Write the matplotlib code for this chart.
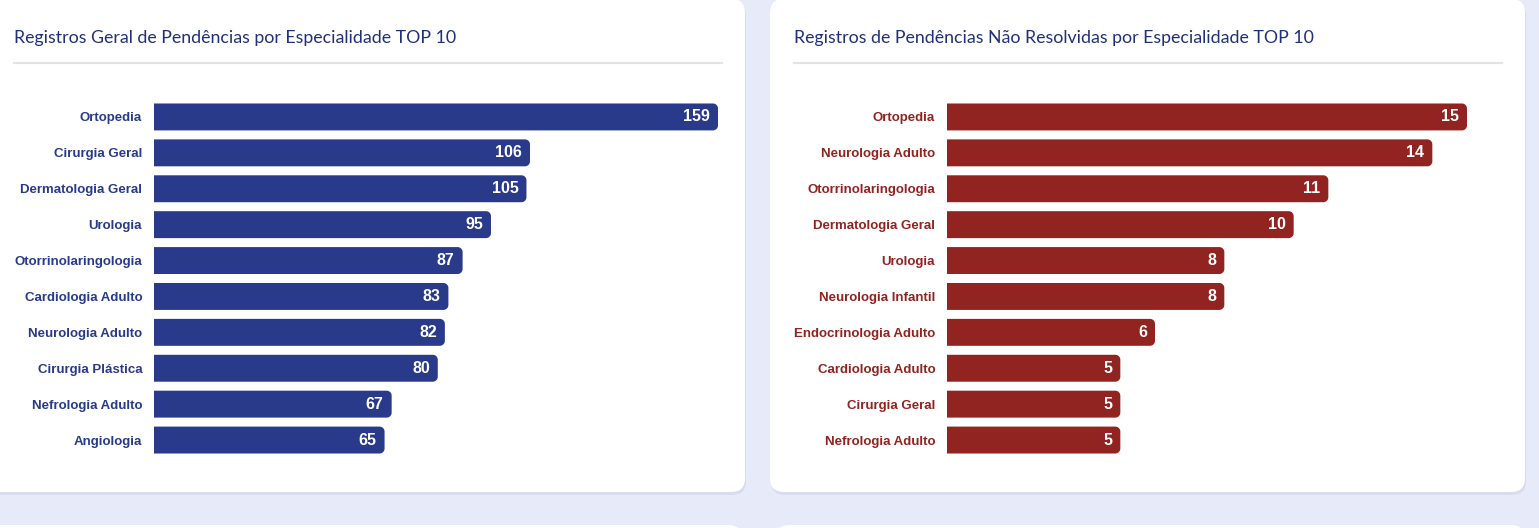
import numpy as np
import matplotlib.pyplot as plt
from matplotlib.patches import FancyBboxPatch, Polygon

# dados
esp_geral = ['Ortopedia', 'Cirurgia Geral', 'Dermatologia Geral', 'Urologia',
             'Otorrinolaringologia', 'Cardiologia Adulto', 'Neurologia Adulto',
             'Cirurgia Plástica', 'Nefrologia Adulto', 'Angiologia']
val_geral = [159, 106, 105, 95, 87, 83, 82, 80, 67, 65]

esp_nao_resolv = ['Ortopedia', 'Neurologia Adulto', 'Otorrinolaringologia',
                  'Dermatologia Geral', 'Urologia', 'Neurologia Infantil',
                  'Endocrinologia Adulto', 'Cardiologia Adulto', 'Cirurgia Geral',
                  'Nefrologia Adulto']
val_nao_resolv = [15, 14, 11, 10, 8, 8, 6, 5, 5, 5]

titulos = ['Registros Geral de Pendências por Especialidade TOP 10',
           'Registros de Pendências Não Resolvidas por Especialidade TOP 10']

W, H = 1539, 528
AZUL = '#293a8a'
VERMELHO = '#912320'
FUNDO = '#e7eaf8'

fig = plt.figure(figsize=(W / 100, H / 100), dpi=100)
fig.patch.set_facecolor(FUNDO)


def px(x0, y0, w, h):
    # caixa em pixels (origem no topo) -> coordenadas da figura
    return [x0 / W, 1 - (y0 + h) / H, w / W, h / H]


def cartao(x0, y0, w, h):
    x, y, ww, hh = px(x0, y0, w, h)
    sombra = FancyBboxPatch((x + 1 / W, y - 3 / H), ww, hh, transform=fig.transFigure,
                            boxstyle='round,pad=0,rounding_size=0.009',
                            mutation_aspect=W / H, facecolor='#d9dcef',
                            edgecolor='none', zorder=0)
    fig.patches.append(sombra)
    p = FancyBboxPatch((x, y), ww, hh, transform=fig.transFigure,
                       boxstyle='round,pad=0,rounding_size=0.009',
                       mutation_aspect=W / H, facecolor='white',
                       edgecolor='none', zorder=0.5)
    fig.patches.append(p)


cartao(-30, -1, 775, 493)
cartao(770, -1, 755, 493)
cartao(-30, 525, 772, 60)
cartao(775, 525, 750, 60)


def barra_arredondada(x0, y0, w, h, rx, ry):
    # retangulo com os cantos da direita arredondados
    t = np.linspace(0, np.pi / 2, 10)
    pts = [(x0, y0)]
    # canto superior direito (y0 e o topo, eixo invertido)
    cx, cy = x0 + w - rx, y0 + ry
    pts += list(zip(cx + rx * np.sin(t), cy - ry * np.cos(t)))
    cx, cy = x0 + w - rx, y0 + h - ry
    pts += list(zip(cx + rx * np.cos(t), cy + ry * np.sin(t)))
    pts.append((x0, y0 + h))
    return pts


def painel(x_card, titulo, cats, vals, cor, bar_left, bar_w, linha_w):
    # titulo e linha separadora
    fig.text((x_card + 14) / W, 1 - 38 / H, titulo, fontsize=12.8, color='#21307a',
             family='Lato', va='center', ha='left', zorder=3)
    fig.add_artist(plt.Line2D([(x_card + 14) / W, (x_card + 14 + linha_w) / W],
                              [1 - 63 / H, 1 - 63 / H], color='#e1e2e8', lw=1.5,
                              zorder=3))

    ax = fig.add_axes(px(bar_left, 99, bar_w, 359))
    ax.set_zorder(2)
    ax.set_facecolor('none')
    y = range(len(cats))
    bars = ax.barh(y, vals, height=0.75, color=cor, edgecolor='none')
    ax.set_xlim(0, max(vals))
    ax.set_ylim(len(cats) - 0.5, -0.5)

    rx = max(vals) * 5 / bar_w          # ~5 px
    ry = len(cats) * 5 / 359
    for b in bars:
        b.set_visible(False)
        x0, y0 = b.get_x(), b.get_y()
        w, h = b.get_width(), b.get_height()
        ax.add_patch(Polygon(barra_arredondada(x0, y0, w, h, rx, ry), closed=True,
                             facecolor=cor, edgecolor='none', zorder=2))
        ax.text(w - max(vals) * 8 / bar_w, y0 + h / 2, str(w), color='white',
                fontsize=11.5, fontweight='bold', family='Liberation Sans',
                ha='right', va='center', zorder=3)

    ax.set_yticks(list(y))
    ax.set_yticklabels(cats, fontsize=9.5, fontweight='bold', color=cor,
                       family='Liberation Sans')
    ax.tick_params(axis='y', length=0, pad=8.5)
    ax.set_xticks([])
    for s in ax.spines.values():
        s.set_visible(False)
    return ax


painel(0, titulos[0], esp_geral, val_geral, AZUL, 154, 564, 708)
painel(780, titulos[1], esp_nao_resolv, val_nao_resolv, VERMELHO, 947, 520, 708)

plt.savefig('out.png', dpi=100, facecolor=fig.get_facecolor())
